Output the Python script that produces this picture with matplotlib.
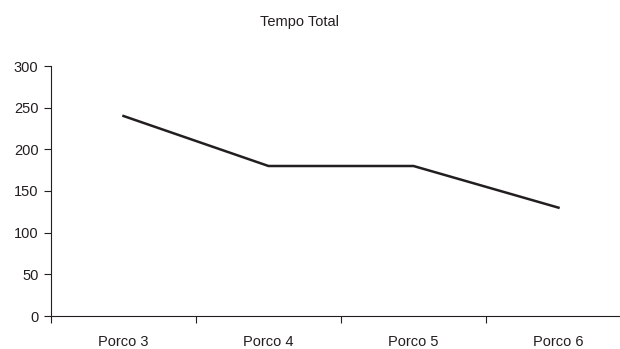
import numpy as np
import matplotlib.pyplot as plt
from matplotlib.ticker import FixedLocator

categories = ['Porco 3', 'Porco 4', 'Porco 5', 'Porco 6']
tempo_total = [240, 180, 180, 130]
y_ticks = [0, 50, 100, 150, 200, 250, 300]

plt.rcParams['font.family'] = ['Liberation Sans', 'DejaVu Sans']

fig = plt.figure(figsize=(6.2, 3.49), dpi=100)
ax = fig.add_axes([51 / 620, 33 / 349, 580 / 620, 250 / 349])

x = np.arange(len(categories))
ax.plot(x, tempo_total, color='#231f20', linewidth=1.8, solid_joinstyle='miter')

ax.set_xlim(-0.5, len(categories) - 0.5)
ax.set_ylim(0, 300)
ax.set_yticks(y_ticks)
ax.set_xticks(x)
ax.set_xticklabels(categories)
ax.xaxis.set_minor_locator(FixedLocator(np.arange(len(categories) + 1) - 0.5))

ax.tick_params(axis='x', which='major', length=0, pad=14, labelsize=10.5, colors='#231f20')
ax.tick_params(axis='x', which='minor', length=5, width=0.8, direction='out', color='#231f20')
ax.tick_params(axis='y', length=5, width=0.8, direction='out', pad=4, labelsize=10.5, colors='#231f20')

for side in ['top', 'right']:
    ax.spines[side].set_visible(False)
for side in ['left', 'bottom']:
    ax.spines[side].set_color('#231f20')
    ax.spines[side].set_linewidth(0.8)

fig.text(299 / 620, 1 - 22 / 349, 'Tempo Total', ha='center', va='center',
         fontsize=10.5, color='#231f20')

fig.savefig('out.png', dpi=100)
